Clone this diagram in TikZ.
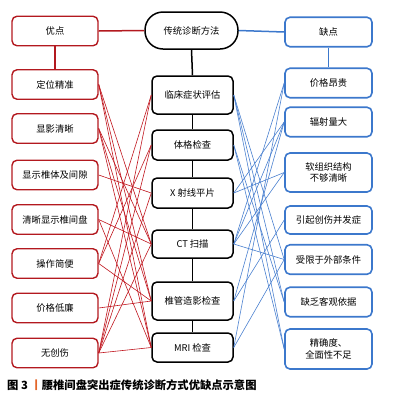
\documentclass[tikz,border=0pt]{standalone}
\usepackage{fontspec}
\setmainfont{Noto Sans CJK SC}
\newfontfamily\capfont{Noto Sans CJK SC}
\definecolor{redc}{HTML}{B3191F}
\definecolor{redl}{HTML}{C0161E}
\definecolor{bluec}{HTML}{3C78CC}
\definecolor{bluel}{HTML}{4A80CF}
\definecolor{barc}{HTML}{E3662A}
\begin{document}
\begin{tikzpicture}[x=1pt,y=-1pt,
  every node/.style={font=\fontsize{9.3}{11.5}\selectfont, align=center, inner sep=0pt},
  lbox/.style={draw=redc, line width=1.4pt, rounded corners=5pt, minimum width=86pt, minimum height=29.5pt},
  cbox/.style={draw=black, line width=1.5pt, rounded corners=5pt, minimum width=81pt},
  rbox/.style={draw=bluec, line width=1.6pt, rounded corners=5pt, minimum width=87pt, minimum height=29.5pt},
  rl/.style={draw=redl, line width=0.6pt},
  bl/.style={draw=bluel, line width=0.6pt},
  tr/.style={line width=1.5pt}]
\useasboundingbox (0,0) rectangle (415,408);
% left
\node[lbox] (you) at (55,31) {优点};
\node[lbox] (l1) at (55,84.5) {定位精准};
\node[lbox] (l2) at (55,128.5) {显影清晰};
\node[lbox] (l3) at (55,175) {显示椎体及间隙};
\node[lbox] (l4) at (55,219.5) {清晰显示椎间盘};
\node[lbox] (l5) at (55,263.5) {操作简便};
\node[lbox] (l6) at (55,308) {价格低廉};
\node[lbox] (l7) at (55,353) {无创伤};
% center
\node[draw=black, line width=1.5pt, rounded corners=18pt, minimum width=93pt, minimum height=37pt] (top) at (191.5,30.5) {传统诊断方法};
\node[cbox, minimum height=38pt] (c1) at (192.5,95) {临床症状评估};
\node[cbox, minimum height=30pt] (c2) at (192.5,145) {体格检查};
\node[cbox, minimum height=30pt] (c3) at (192.5,193) {X 射线平片};
\node[cbox, minimum height=28pt] (c4) at (192.5,244) {CT 扫描};
\node[cbox, minimum height=38pt] (c5) at (192.5,301) {椎管造影检查};
\node[cbox, minimum height=29pt] (c6) at (192.5,347.5) {MRI 检查};
% right
\node[rbox] (que) at (328.5,32) {缺点};
\node[rbox] (r1) at (328.5,83) {价格昂贵};
\node[rbox] (r2) at (328.5,122) {辐射量大};
\node[rbox, minimum height=39pt] (r3) at (328.5,172.5) {软组织结构\\不够清晰};
\node[rbox, minimum height=28pt] (r4) at (328.5,220) {引起创伤并发症};
\node[rbox] (r5) at (328.5,259.5) {受限于外部条件};
\node[rbox] (r6) at (328.5,302) {缺乏客观依据};
\node[rbox, minimum height=40pt] (r7) at (328.5,349) {精确度、\\全面性不足};
% trunk lines
\draw[tr, redc] (you.east) -- (top.west);
\draw[tr, bluec] (top.east) -- (que.west);
\draw[tr, redc] (you.south) -- (l1.north);
\draw[tr, bluec] (que.south) -- (r1.north);
\draw[tr] (top.south) -- (c1.north);
\draw[tr] (c1.south) -- (c2.north);
\draw[tr] (c2.south) -- (c3.north);
\draw[tr] (c3.south) -- (c4.north);
\draw[tr] (c4.south) -- (c5.north);
\draw[tr] (c5.south) -- (c6.north);
% red connections
\foreach \a/\b in {l1/c4,l1/c5,l1/c6,l2/c4,l2/c5,l2/c6,l3/c3,l4/c4,l4/c6,
  l5/c1,l5/c2,l5/c5,l6/c5,l7/c1,l7/c2,l7/c3,l7/c4,l7/c6}
  \draw[rl] (\a.east) -- (\b.west);
% blue connections
\foreach \a/\b in {c1/r5,c1/r6,c1/r7,c2/r6,c2/r7,c3/r2,c3/r3,c4/r1,c4/r2,c4/r3,c4/r5,
  c5/r2,c5/r4,c6/r1,c6/r5}
  \draw[bl] (\a.east) -- (\b.west);
% caption
\node[anchor=west, font=\capfont\bfseries\fontsize{11.3}{13}\selectfont] (cap) at (7,385)
  {图 3 \textcolor{barc}{丨}腰椎间盘突出症传统诊断方式优缺点示意图};
\end{tikzpicture}
\end{document}
